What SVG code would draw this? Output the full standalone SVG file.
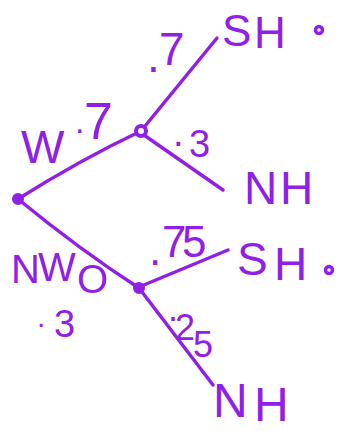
<svg xmlns="http://www.w3.org/2000/svg" width="343" height="431" viewBox="0 0 343 431">
<style>
.ln{stroke:#9020E6;stroke-width:3.5;fill:none;stroke-linecap:round;stroke-linejoin:round}
.t{fill:#9020E6;font-family:"Liberation Sans","DejaVu Sans",sans-serif}
.nd{stroke:#9020E6;stroke-width:4;fill:#ffffff}
.nf{stroke:#9020E6;stroke-width:4;fill:#9020E6}
</style>
<rect width="343" height="431" fill="#ffffff"/>
<g id="connectors">
<path class="ln" d="M18,199 Q80,160 141,131"/>
<path class="ln" d="M141,131 L217,38"/>
<path class="ln" d="M141,133 L223,190"/>
<path class="ln" d="M18,199 Q80,250 139,288"/>
<path class="ln" d="M139,287 L228,250"/>
<path class="ln" d="M139,288 L213,385"/>
</g>
<g id="root"><circle class="nf" cx="18" cy="199" r="4"/></g>
<g id="w">
<circle class="nd" cx="141" cy="131" r="5"/>
<text class="t" font-size="46"><tspan x="21" y="163">W</tspan><tspan x="75" y="133" font-size="34">.</tspan><tspan x="84" y="139" font-size="52">7</tspan></text>
</g>
<g id="nwo">
<circle class="nf" cx="139" cy="288" r="4"/>
<text class="t" font-size="40" x="11 38 77" y="283 281 293">NWO</text>
<text class="t" font-size="38"><tspan x="37" y="327" font-size="30">.</tspan><tspan x="54" y="337">3</tspan></text>
</g>
<g id="sh1">
<text class="t" font-size="46" x="147 159" y="72 65">.7</text>
<text class="t" font-size="44" x="222 254" y="46 48">SH</text>
<circle class="ln" cx="319" cy="30" r="3.5"/>
</g>
<g id="nh1">
<text class="t" font-size="38" x="173 189" y="146 157">.3</text>
<text class="t" font-size="46" x="244 280" y="204">NH</text>
</g>
<g id="sh2">
<text class="t" font-size="44" x="149 162 182" y="265 257 257">.75</text>
<text class="t" font-size="46" x="237 274" y="275 280">SH</text>
<circle class="ln" cx="329" cy="270" r="3.5"/>
</g>
<g id="nh2">
<text class="t" font-size="36" x="168 175 193" y="321 340 357">.25</text>
<text class="t" font-size="48" x="213 254" y="417 421">NH</text>
</g>
</svg>
